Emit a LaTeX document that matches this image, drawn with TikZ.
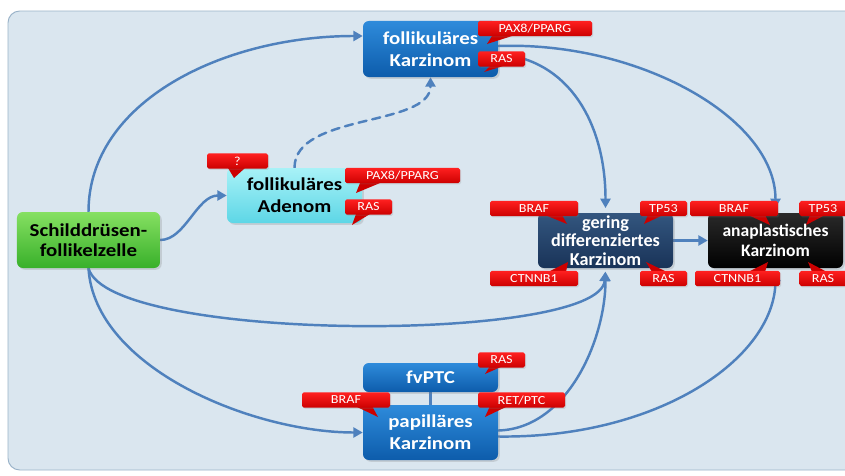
\documentclass[tikz,border=0pt]{standalone}
\usepackage{fontspec}
\setmainfont{Carlito}
\newfontfamily\widefont[FakeStretch=1.15]{Carlito}
\usetikzlibrary{arrows.meta,calc,shadows}
\definecolor{bgc}{HTML}{DAE6EF}
\definecolor{bgline}{HTML}{9AB3C9}
\definecolor{conc}{HTML}{4F81BD}
\definecolor{redt}{HTML}{FF2020}
\definecolor{redb}{HTML}{CC0000}
\definecolor{bluet}{HTML}{2E8BDB}
\definecolor{blueb}{HTML}{0D5CAB}
\definecolor{greent}{HTML}{86E062}
\definecolor{greenb}{HTML}{38B02A}
\definecolor{cyant}{HTML}{A8F2F7}
\definecolor{cyanb}{HTML}{5DD6E6}
\definecolor{navyt}{HTML}{33567F}
\definecolor{navyb}{HTML}{193358}
\definecolor{blackt}{HTML}{2A2A2A}
\definecolor{blackb}{HTML}{000000}
\pgfdeclarelayer{bglayer}
\pgfdeclarelayer{connlayer}
\pgfsetlayers{bglayer,connlayer,main}
\tikzset{
  stage/.style={rounded corners=5pt, align=center, inner sep=0pt,
    font=\widefont\fontsize{15.5}{19}\selectfont\bfseries,
    minimum width=4.05cm, minimum height=1.65cm,
    drop shadow={opacity=0.25,shadow xshift=1.5pt,shadow yshift=-1.5pt}},
  tight/.style={font=\fontsize{15.5}{15.7}\selectfont\bfseries},
  bluenode/.style={stage, top color=bluet, bottom color=blueb, text=white},
  greennode/.style={stage, top color=greent, bottom color=greenb, text=black},
  cyannode/.style={stage, top color=cyant, bottom color=cyanb, text=black},
  navynode/.style={stage, top color=navyt, bottom color=navyb, text=white},
  blacknode/.style={stage, top color=blackt, bottom color=blackb, text=white},
  tag/.style={rounded corners=1.5pt, top color=redt, bottom color=redb, text=white,
    font=\widefont\fontsize{10.5}{11}\selectfont, inner sep=0pt, minimum height=0.46cm,
    drop shadow={opacity=0.2,shadow xshift=1pt,shadow yshift=-1pt}},
  conn/.style={draw=conc, line width=2.1pt, line cap=round,
    -{Triangle[length=8pt,width=8.5pt]}},
  tailfill/.style={fill=redb}
}
\begin{document}
\begin{tikzpicture}[x=0.03cm,y=-0.03cm]
\useasboundingbox (0,0) rectangle (845,475);
\begin{pgfonlayer}{bglayer}
  \fill[white] (0,0) rectangle (845,475);
  \draw[bgline, fill=bgc, line width=0.8pt, rounded corners=10pt] (8,11) rectangle (880,470);
\end{pgfonlayer}

% main stage nodes
\node[greennode, minimum width=4.29cm, minimum height=1.68cm, font=\widefont\fontsize{15.5}{17}\selectfont\bfseries] (sch) at (88.5,240) {Schilddrüsen-\\follikelzelle};
\node[cyannode] (ad) at (294.5,195.5) {follikuläres\\Adenom};
\node[bluenode, minimum height=1.68cm] (fk) at (430.5,49) {follikuläres\\Karzinom};
\node[navynode, tight] (gd) at (605.5,240.5) {gering\\differenziertes\\Karzinom};
\node[blacknode, font=\fontsize{15}{17}\selectfont\bfseries] (an) at (775.5,240.5) {anaplastisches\\Karzinom};
\node[bluenode, minimum height=0.87cm] (fv) at (430.5,377.5) {fvPTC};
\node[bluenode] (pk) at (430.5,432.5) {papilläres\\Karzinom};

% connectors
\begin{pgfonlayer}{connlayer}
  \draw[conn] (sch.north) .. controls +(0,-110) and +(-140,0) .. ($(fk.west)+(0,-13)$);
  \draw[conn] (sch.east) .. controls +(25,0) and +(-30,0) .. (ad.west);
  \draw[conn, dashed, dash pattern=on 7pt off 5pt] (ad.north) .. controls +(0,-55) and +(0,50) .. (fk.south);
  \draw[conn, shorten >=4pt] ($(fk.east)+(0,5)$) .. controls +(70,5) and +(0,-90) .. (gd.north);
  \draw[conn, shorten >=4pt] ($(fk.east)+(0,-3)$) .. controls +(140,-5) and +(0,-95) .. (an.north);
  \draw[conn] (gd.east) -- (an.west);
  \draw[conn, shorten >=3pt] (sch.south) .. controls +(20,75) and +(-5,75) .. (gd.south);
  \draw[conn] (sch.south) .. controls +(6,100) and +(-110,0) .. (pk.west);
  \draw[conn, shorten >=3pt] ($(pk.east)+(0,-2)$) .. controls +(70,-2) and +(0,70) .. (gd.south);
  \draw[conn, shorten >=3pt] ($(pk.east)+(0,4)$) .. controls +(160,2) and +(0,90) .. (an.south);
  \draw[draw=conc, line width=2.1pt] (fv.south) -- (pk.north);
\end{pgfonlayer}

% callout tails
\fill[tailfill] (492,36) -- (512,36) -- (487,44) -- cycle;
\fill[tailfill] (490,66) -- (503,66) -- (484,72) -- cycle;
\fill[tailfill] (228,168) -- (245,168) -- (234,178) -- cycle;
\fill[tailfill] (360,183) -- (380,183) -- (356,193) -- cycle;
\fill[tailfill] (356,214) -- (370,214) -- (352,225) -- cycle;
\fill[tailfill] (545,215) -- (562,215) -- (567,224) -- cycle;
\fill[tailfill] (648,215) -- (663,215) -- (644,224) -- cycle;
\fill[tailfill] (548,272) -- (566,272) -- (568,262) -- cycle;
\fill[tailfill] (652,272) -- (667,272) -- (646,262) -- cycle;
\fill[tailfill] (748,215) -- (765,215) -- (770,225) -- cycle;
\fill[tailfill] (810,215) -- (825,215) -- (806,225) -- cycle;
\fill[tailfill] (748,272) -- (765,272) -- (768,262) -- cycle;
\fill[tailfill] (812,272) -- (827,272) -- (808,262) -- cycle;
\fill[tailfill] (490,366) -- (503,366) -- (485,374) -- cycle;
\fill[tailfill] (355,406) -- (372,406) -- (378,417) -- cycle;
\fill[tailfill] (490,406) -- (508,406) -- (485,417) -- cycle;

% callouts
\node[tag, minimum width=3.42cm] (t1) at (535,28.5) {PAX8/PPARG};
\node[tag, minimum width=1.41cm] (t2) at (501.5,59) {RAS};
\node[tag, minimum width=1.83cm] (t3) at (237.5,161) {?};
\node[tag, minimum width=3.45cm] (t4) at (402.5,175.5) {PAX8/PPARG};
\node[tag, minimum width=1.41cm] (t5) at (368.5,207) {RAS};
\node[tag, minimum width=2.64cm] (t6) at (534,208.5) {BRAF};
\node[tag, minimum width=1.41cm] (t7) at (663.5,208.5) {TP53};
\node[tag, minimum width=2.64cm] (t8) at (534,278.5) {CTNNB1};
\node[tag, minimum width=1.41cm] (t9) at (663.5,278.5) {RAS};
\node[tag, minimum width=2.64cm] (t10) at (734,208.5) {BRAF};
\node[tag, minimum width=1.41cm] (t11) at (823,208.5) {TP53};
\node[tag, minimum width=2.55cm] (t12) at (737.5,278.5) {CTNNB1};
\node[tag, minimum width=1.41cm] (t13) at (823,278.5) {RAS};
\node[tag, minimum width=1.41cm] (t14) at (501.5,360) {RAS};
\node[tag, minimum width=2.64cm] (t15) at (346,400) {BRAF};
\node[tag, minimum width=2.61cm] (t16) at (521.5,400) {RET/PTC};
\end{tikzpicture}
\end{document}
